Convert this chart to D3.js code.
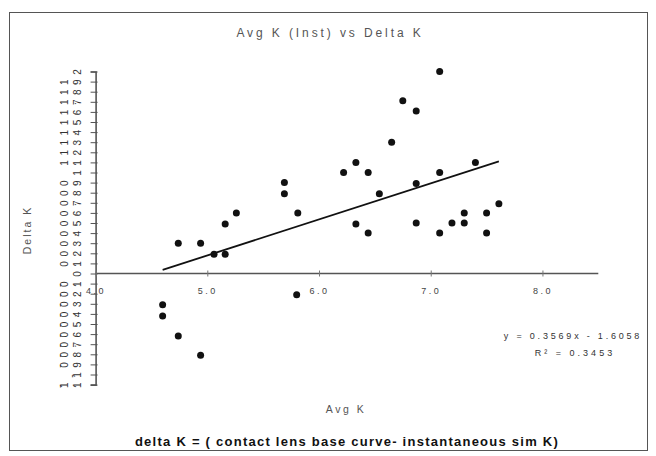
<!DOCTYPE html>
<html>
<head>
<meta charset="utf-8">
<script src="https://cdn.jsdelivr.net/npm/d3@7"></script>
<style>
  html, body { margin: 0; padding: 0; background: #fff; }
  svg { display: block; font-family: "Liberation Sans", Arial, sans-serif; }
</style>
</head>
<body>
<svg id="chart" width="656" height="456"></svg>
<script>
// ---- data ----
const avgK = [4.60, 4.60, 4.74, 4.94, 4.74, 4.94, 5.06, 5.16, 5.16, 5.26,
              5.69, 5.69, 5.81, 5.80, 6.22, 6.33, 6.44, 6.54, 6.65, 6.75,
              6.87, 6.87, 7.08, 7.08, 7.40, 7.61, 6.33, 6.44, 6.87, 7.08,
              7.19, 7.30, 7.30, 7.50, 7.50];
const deltaK = [-0.31, -0.42, -0.62, -0.81, 0.30, 0.30, 0.19, 0.19, 0.49, 0.60,
                0.90, 0.79, 0.60, -0.21, 1.00, 1.10, 1.00, 0.79, 1.30, 1.71,
                1.61, 0.89, 2.00, 1.00, 1.10, 0.69, 0.49, 0.40, 0.50, 0.40,
                0.50, 0.50, 0.60, 0.60, 0.40];
const xTickValues = [4, 5, 6, 7, 8];
const yTickValues = [2, 1.9, 1.8, 1.7, 1.6, 1.5, 1.4, 1.3, 1.2, 1.1, 1,
                     0.9, 0.8, 0.7, 0.6, 0.5, 0.4, 0.3, 0.2, 0.1, 0,
                     -0.1, -0.2, -0.3, -0.4, -0.5, -0.6, -0.7, -0.8, -0.9, -1, -1.1];
const trendSlope = 0.3569;
const trendIntercept = -1.6058;
const rSquared = 0.3453;
const titleText = "Avg K (Inst) vs Delta K";
const xTitle = "Avg K";
const yTitle = "Delta K";
const noteText = "delta K = ( contact lens base curve- instantaneous sim K)";

const svg = d3.select("#chart");

// frame
svg.append("rect").attr("x", 9.5).attr("y", 12.5).attr("width", 638).attr("height", 438)
  .attr("fill", "none").attr("stroke", "#555").attr("stroke-width", 1);

const x = d3.scaleLinear().domain([4, 8.5]).range([95.6, 598.3]);
const y = d3.scaleLinear().domain([-1.1, 2]).range([384.6, 71.5]);

// y axis
const yAxis = svg.append("g").attr("transform", `translate(${x(4)},0)`)
  .call(d3.axisLeft(y).tickValues(yTickValues).tickSize(5).tickPadding(0).tickFormat(d => String(d)));
yAxis.select(".domain").attr("stroke", "#555").attr("stroke-width", 1.6);
yAxis.selectAll(".tick line").attr("stroke", "#555").attr("x2", 2).attr("x1", -5);
yAxis.selectAll(".tick text")
  .attr("x", -7.4).attr("dy", "0.28em")
  .attr("rotate", -90)
  .attr("font-size", 10).attr("letter-spacing", 2)
  .attr("fill", "#333").attr("text-anchor", "end");

// x axis (at zero)
const xAxis = svg.append("g").attr("transform", `translate(0,${y(0)})`)
  .call(d3.axisBottom(x).tickValues(xTickValues).tickSize(3).tickFormat(d3.format(".1f")));
xAxis.select(".domain").attr("stroke", "#555").attr("stroke-width", 1.6).attr("d", `M${x(4)},0H${x(8.5)}`);
xAxis.selectAll(".tick line").attr("stroke", "#777").attr("y1", -3).attr("y2", 3);
xAxis.selectAll(".tick text").attr("y", 14).attr("font-size", 9).attr("letter-spacing", 2.5)
  .attr("fill", "#444");

// trendline
const xMin = d3.min(avgK), xMax = d3.max(avgK);
svg.append("line")
  .attr("x1", x(xMin)).attr("y1", y(trendSlope * xMin + trendIntercept))
  .attr("x2", x(xMax)).attr("y2", y(trendSlope * xMax + trendIntercept))
  .attr("stroke", "#111").attr("stroke-width", 1.8);

// points
svg.append("g").selectAll("circle").data(avgK.map((d, i) => [d, deltaK[i]])).join("circle")
  .attr("cx", d => x(d[0])).attr("cy", d => y(d[1])).attr("r", 3.5).attr("fill", "#111");

// equation
svg.append("text").attr("x", 573).attr("y", 339).attr("text-anchor", "middle")
  .attr("font-size", 9).attr("letter-spacing", 2.8).attr("fill", "#333")
  .text(`y = ${trendSlope}x - ${Math.abs(trendIntercept).toFixed(4)}`);
svg.append("text").attr("x", 575).attr("y", 356).attr("text-anchor", "middle")
  .attr("font-size", 9).attr("letter-spacing", 3).attr("fill", "#333")
  .text(`R² = ${rSquared}`);

// title
svg.append("text").attr("x", 330).attr("y", 37).attr("text-anchor", "middle")
  .attr("font-size", 12).attr("letter-spacing", 2.9).attr("fill", "#555").text(titleText);

// axis titles
svg.append("text").attr("x", 346).attr("y", 413).attr("text-anchor", "middle")
  .attr("font-size", 10.5).attr("letter-spacing", 2.5).attr("fill", "#555").text(xTitle);
svg.append("text").attr("transform", "translate(31,230) rotate(-90)").attr("text-anchor", "middle")
  .attr("font-size", 10.5).attr("letter-spacing", 2).attr("fill", "#555").text(yTitle);

// note
svg.append("text").attr("x", 347).attr("y", 446).attr("text-anchor", "middle")
  .attr("font-size", 13).attr("font-weight", "bold").attr("letter-spacing", 1.25).attr("fill", "#111")
  .text(noteText);
</script>
</body>
</html>
